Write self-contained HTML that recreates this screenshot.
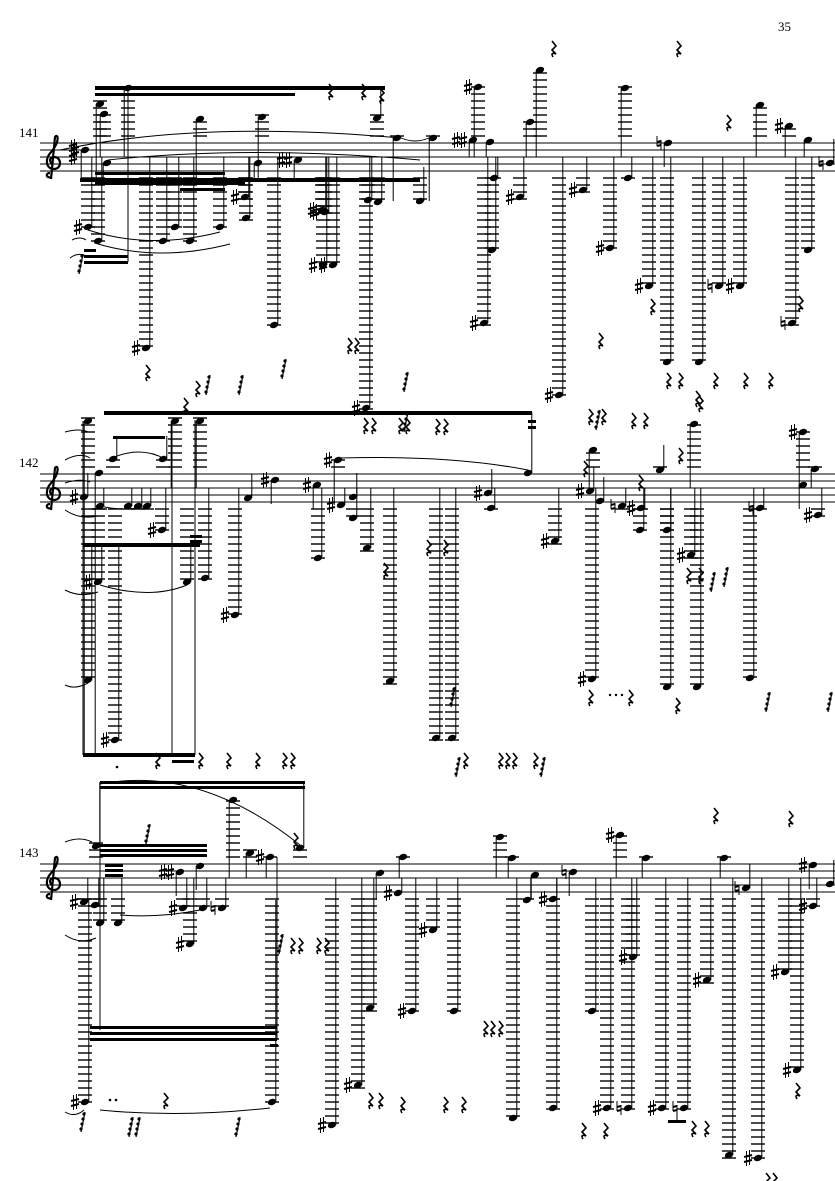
<!DOCTYPE html>
<html><head><meta charset="utf-8"><style>
html,body{margin:0;padding:0;background:#fff;width:835px;height:1181px;overflow:hidden}
svg{display:block}
.t{font-family:"Liberation Serif",serif;font-size:13px;fill:#000}
</style></head><body>
<svg id="s" width="835" height="1181" viewBox="0 0 835 1181" xmlns="http://www.w3.org/2000/svg">
<text class="t" x="778" y="31">35</text>
<text class="t" x="19" y="137" font-size="11">141</text>
<text class="t" x="19" y="467" font-size="11">142</text>
<text class="t" x="19" y="857" font-size="11">143</text>
<g id="g"></g>
</svg>
<script>
var g=document.getElementById('g'),NS='http://www.w3.org/2000/svg',h='';
function L(x1,y1,x2,y2,w){h+='<line x1="'+x1+'" y1="'+y1+'" x2="'+x2+'" y2="'+y2+'" stroke="#000" stroke-width="'+(w||1)+'"/>';}
function R(x,y,w,hh){h+='<rect x="'+x+'" y="'+y+'" width="'+w+'" height="'+hh+'" fill="#000"/>';}
function P(d,w,f){h+='<path d="'+d+'" fill="'+(f||'none')+'" stroke="#000" stroke-width="'+(w||1)+'"/>';}
function sharp(x,y){L(x-1.5,y-7,x-1.5,y+8,1);L(x+1.5,y-8,x+1.5,y+7,1);L(x-4,y-1,x+4,y-3,2);L(x-4,y+4,x+4,y+2,2);}
function nat(x,y){L(x-2,y-7,x-2,y+3,1);L(x+2,y-3,x+2,y+7,1);L(x-2,y-1,x+2,y-2,2);L(x-2,y+3,x+2,y+2,2);}
function rest(x,y){P('M'+(x-1)+' '+(y-7)+' L'+(x+3)+' '+(y-2)+' L'+(x-1)+' '+(y+2)+' L'+(x+3)+' '+(y+6)+' Q'+(x-3)+' '+(y+4)+' '+x+' '+(y+9),1.6);}
function flagrest(x,y){L(x,y-8,x-4,y+12,1.2);for(var i=0;i<4;i++){h+='<circle cx="'+(x-1-i)+'" cy="'+(y-6+i*5)+'" r="1.6"/>';}}
function N(T,x,y,acc,se){
 var B=T+28,mid=T+14,ly;
 if(y>B+3){for(ly=B+7;ly<=y+3;ly+=7)L(x-7,ly,x+7,ly,1.4);}
 if(y<T-3){for(ly=T-7;ly>=y-3;ly-=7)L(x-7,ly,x+7,ly,1.4);}
 h+='<ellipse cx="'+x+'" cy="'+y+'" rx="4.3" ry="3" transform="rotate(-20 '+x+' '+y+')"/>';
 if(se===undefined){ if(y>mid) se=(y>B?mid:y-24); else se=(y<T?mid:y+24);}
 if(se!==null){ if(se<y) L(x+3.8,y,x+3.8,se,1); else L(x-3.8,y,x-3.8,se,1);}
 if(acc=='s')sharp(x-10,y); else if(acc=='ss'){sharp(x-10,y);sharp(x-17,y);} else if(acc=='n')nat(x-9,y);
}
function staff(T){for(var i=0;i<5;i++)L(40,T+i*7,835,T+i*7,0.9);
 // clef
 P('M52 '+(T+34)+' C46 '+(T+36)+' 45 '+(T+30)+' 50 '+(T+30)+' M51 '+(T+36)+' L55 '+(T-6)+' C58 '+(T-10)+' 60 '+(T-2)+' 52 '+(T+8)+' C44 '+(T+16)+' 46 '+(T+26)+' 54 '+(T+26)+' C62 '+(T+26)+' 62 '+(T+14)+' 54 '+(T+14)+' C49 '+(T+14)+' 49 '+(T+20)+' 53 '+(T+21),2.2);
}
// ---------- SYSTEM 1 ----------
var T=143;staff(T);sharp(73,T+4);sharp(73,T+14);
R(95,86,290,4);R(95,93,200,3);R(80,178,340,4);R(95,172,130,3);R(180,188,45,3);R(84,255,44,3);R(84,261,44,3);R(84,249,12,3);R(95,182,150,3);
[[88,227,'s'],[98,241],[163,241],[175,227],[190,241],[220,227],[245,197,'s'],[246,218],[146,348,'s'],[274,325],[322,210,'s'],[323,265,'s'],[366,408,'s'],[378,202],
 [85,150,'s',180],[107,163,'',180],[258,163,'',180],[298,160,'ss',180],[100,104,'',180],[104,114,null],[200,119,'',180],[262,117,'',180],[128,88,null],
 [333,265,'s'],[325,212,'s'],[368,200],[420,201,'',167],[377,118,'',88],[397,138,'',201],[433,138,'',201],[473,140,'ss'],[490,142],
 [478,87,'s'],[484,323,'s'],[492,250],[494,178],[520,197,'s'],[530,122],[540,70],[559,395,'s'],[583,190,'s'],[610,248,'s'],[625,88],[628,178],
 [649,286,'s'],[668,143,'n'],[667,362],[699,362],[719,286,'n'],[740,286,'s'],[760,105],[789,126,'s'],[808,140],[792,323,'n'],[808,250],[830,163,'n']
].forEach(function(n){N(T,n[0],n[1],n[2],n[3]);});
L(128,88,128,262,1);
P('M88 230 Q150 250 220 232',1);P('M98 244 Q160 262 230 244',1);P('M60 150 Q200 120 400 138',1);P('M108 160 Q250 145 420 160',1);P('M397 136 Q415 146 433 136',1);P('M72 240 Q80 236 86 240',1);P('M70 258 Q78 252 86 256',1);
[[553,48],[678,48],[728,122],[668,380],[680,380],[715,380],[745,380],[770,380],[700,403],[147,372],[349,345],[356,345],[330,91],[363,91],[381,95],[197,388],[600,340],[652,306],[800,303]].forEach(function(r){rest(r[0],r[1]);});
[[210,383],[243,383],[286,367],[408,380],[83,262]].forEach(function(r){flagrest(r[0],r[1]);});
// ---------- SYSTEM 2 ----------
T=474;staff(T);
R(104,411,428,4);R(83,543,117,4);R(83,753,112,4);R(113,436,52,3);R(190,535,12,3);R(190,540,12,3);R(528,420,8,3);R(528,426,8,3);R(172,760,22,3);R(172,754,22,3);
[[88,421,'',755],[99,473,'',755],[84,497,'s'],[100,506],[113,459,'',436],[163,459,'',436],[128,506],[138,506],[147,506],[162,530,'s'],[175,421],[200,421],[98,582,'s',545],[187,582,'',545],[88,680,'',545],[115,740,'s',545],
 [205,578],[235,615,'s'],[248,498],[275,480,'s'],[317,485,'s'],[318,558],[338,460,'s',505],[341,505,'s'],[353,497],[353,518],[367,548],[390,681],[436,738],[452,738],[488,493,'s'],[491,508],
 [528,473,'',412],[555,541,'s'],[590,491,'s'],[592,679,'s'],[593,450],[600,501],[622,506,'n'],[641,508,'s'],[640,530],[667,530],[660,470,'',445],[694,424],[691,555,'s'],[667,687],[697,687],
 [760,508,'n'],[750,678],[803,432,'s'],[815,469],[803,485],[818,515,'s']
].forEach(function(n){N(T,n[0],n[1],n[2],n[3]);});
L(195,420,195,755,1);L(172,421,172,755,1);L(83,421,83,755,1);
P('M110 459 Q140 445 165 459',1);P('M100 506 Q125 512 147 506',1);P('M340 458 Q450 455 528 470',1);P('M65 432 Q80 428 88 432',1);P('M65 460 Q80 452 90 458',1);P('M65 510 Q80 520 98 516',1);P('M65 590 Q80 598 98 592',1);P('M100 585 Q150 600 187 585',1);P('M65 685 Q75 690 88 683',1);P('M65 483 Q80 478 90 482',1);
[[185,405],[365,425],[373,425],[400,425],[407,425],[437,426],[445,426],[385,570],[428,547],[445,547],[640,482],[590,697],[630,697],[677,705],[157,760],[200,760],[228,760],[257,760],[284,760],[292,760],[465,760],[500,760],[507,760],[514,760],[535,760],[688,575],[700,575],[590,416],[603,416],[633,420],[645,420],[697,398],[680,455],[585,468]].forEach(function(r){rest(r[0],r[1]);});
[[408,420],[455,695],[460,765],[545,765],[600,418],[770,700],[728,575],[715,580],[832,700]].forEach(function(r){flagrest(r[0],r[1]);});
h+='<circle cx="610" cy="695" r="1.2"/><circle cx="616" cy="695" r="1.2"/><circle cx="622" cy="695" r="1.2"/><circle cx="117" cy="767" r="1.3"/>';
// ---------- SYSTEM 3 ----------
T=864;staff(T);
R(100,781,205,3);R(100,786,205,3);R(100,844,107,3);R(100,849,107,3);R(100,854,107,3);R(105,864,18,3);R(105,869,18,3);R(105,874,18,3);R(90,1026,187,3);R(90,1032,187,3);R(90,1038,187,3);R(270,1044,8,3);
[[96,846,'',782],[233,800],[300,848,'',782],[180,872,'ss'],[200,866],[183,908,'s'],[190,944,'s'],[203,908],[222,908,'n'],[250,853],[270,857,'s'],
 [84,902,'s'],[95,905],[100,923],[118,923],[85,1102,'s',900],[272,1102,'',900],
 [332,1125,'s'],[358,1085,'s'],[370,1008],[380,873,'',900],[398,893,'s'],[403,857],[412,1011,'s'],[433,930,'s'],[454,1011],[500,837],[512,858],[513,1118],[527,900],[535,875],[553,899,'s'],[553,1108],
 [573,872,'n'],[592,1011],[607,1108,'s'],[628,1108,'n'],[620,835,'s'],[633,957,'s'],[646,858],[662,1108,'s'],[684,1108,'n'],[707,980,'s'],[724,858],[729,1155],[746,888,'n'],[758,1158,'s'],
 [785,972,'s'],[797,1070,'s'],[813,865,'s'],[813,906,'s'],[830,884]
].forEach(function(n){N(T,n[0],n[1],n[2],n[3]);});
L(100,782,100,1030,1);L(277,857,277,1040,1);
P('M100 784 Q200 765 300 845',1);P('M65 842 Q80 836 92 842',1);P('M65 935 Q80 945 96 938',1);P('M100 1110 Q180 1118 270 1108',1);P('M120 915 Q160 918 200 910',1);P('M65 1112 Q75 1118 84 1110',1);
R(668,1120,18,3);L(677,1108,677,1120,1);
[[715,815],[790,818],[295,840],[485,1028],[492,1028],[500,1028],[292,945],[300,945],[318,945],[326,945],[402,1104],[445,1104],[463,1104],[583,1130],[605,1130],[693,1128],[706,1128],[767,1180],[774,1180],[797,1090],[370,1100],[380,1100],[165,1100]].forEach(function(r){rest(r[0],r[1]);});
[[150,832],[85,1120],[133,1125],[140,1125],[240,1125],[283,942]].forEach(function(r){flagrest(r[0],r[1]);});
h+='<circle cx="110" cy="1100" r="1.3"/><circle cx="116" cy="1100" r="1.3"/>';
g.innerHTML=h;
</script>
</body></html>
